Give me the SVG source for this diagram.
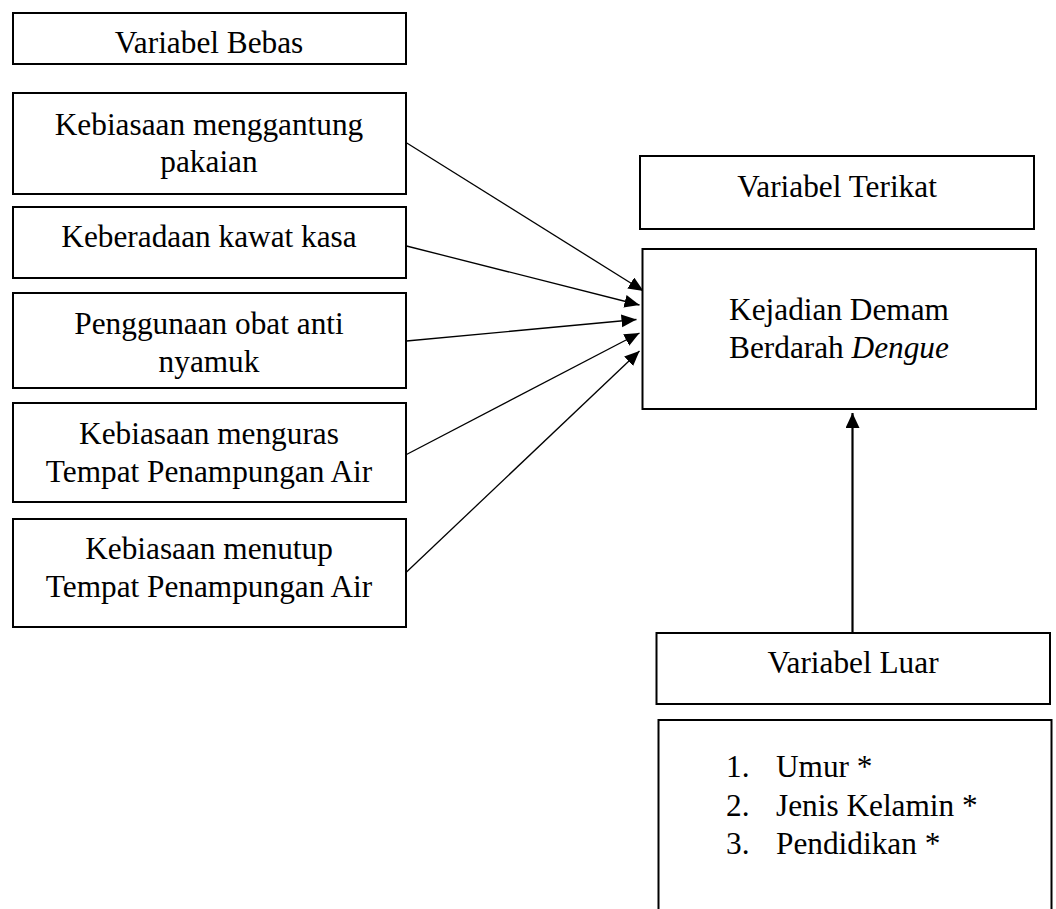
<svg xmlns="http://www.w3.org/2000/svg" width="1056" height="909" viewBox="0 0 1056 909">
<style>
  .box { fill: #fff; stroke: #000; stroke-width: 2; }
  .t { font-family: "Liberation Serif", "Times New Roman", serif; font-size: 31.3px; fill: #000; }
  .c { text-anchor: middle; }
  .conn { stroke: #000; stroke-width: 1.3; fill: none; }
  .conn2 { stroke: #000; stroke-width: 2.2; fill: none; }
</style>
<defs>
  <marker id="ah" markerUnits="userSpaceOnUse" markerWidth="16" markerHeight="14" refX="15" refY="6.5" orient="auto">
    <path d="M0,0 L15,6.5 L0,13 z" fill="#000"/>
  </marker>
  <marker id="ah2" markerUnits="userSpaceOnUse" markerWidth="16" markerHeight="15" refX="15" refY="7" orient="auto">
    <path d="M0,0 L15,7 L0,14 z" fill="#000"/>
  </marker>
</defs>
<rect width="1056" height="909" fill="#fff"/>

<g id="connectors">
  <line class="conn" x1="406" y1="142.5" x2="643.5" y2="291" marker-end="url(#ah)"/>
  <line class="conn" x1="406.5" y1="246" x2="639.5" y2="305" marker-end="url(#ah)"/>
  <line class="conn" x1="406.5" y1="341" x2="636.5" y2="319.5" marker-end="url(#ah)"/>
  <line class="conn" x1="406.5" y1="454.5" x2="639.5" y2="333" marker-end="url(#ah)"/>
  <line class="conn" x1="406" y1="572.5" x2="639.5" y2="351" marker-end="url(#ah)"/>
  <line class="conn2" x1="852.5" y1="632" x2="852.5" y2="413" marker-end="url(#ah2)"/>
</g>

<g id="variabel-bebas">
  <rect class="box" x="13" y="13" width="393" height="51"/>
  <text class="t c" x="209" y="53">Variabel Bebas</text>
</g>
<g id="menggantung">
  <rect class="box" x="13" y="93" width="393" height="101"/>
  <text class="t c" x="209" y="134.5">Kebiasaan menggantung</text>
  <text class="t c" x="209" y="172">pakaian</text>
</g>
<g id="kawat-kasa">
  <rect class="box" x="13" y="207" width="393" height="71"/>
  <text class="t c" x="209" y="246.5">Keberadaan kawat kasa</text>
</g>
<g id="obat-nyamuk">
  <rect class="box" x="13" y="293" width="393" height="95"/>
  <text class="t c" x="209" y="333.5">Penggunaan obat anti</text>
  <text class="t c" x="209" y="371.5">nyamuk</text>
</g>
<g id="menguras">
  <rect class="box" x="13" y="403" width="393" height="99"/>
  <text class="t c" x="209" y="443.5">Kebiasaan menguras</text>
  <text class="t c" x="209" y="481.5">Tempat Penampungan Air</text>
</g>
<g id="menutup">
  <rect class="box" x="13" y="519" width="393" height="108"/>
  <text class="t c" x="209" y="558.5">Kebiasaan menutup</text>
  <text class="t c" x="209" y="596.5">Tempat Penampungan Air</text>
</g>

<g id="variabel-terikat">
  <rect class="box" x="640" y="156" width="394" height="73"/>
  <text class="t c" x="837" y="196.5">Variabel Terikat</text>
</g>
<g id="kejadian-dbd">
  <rect class="box" x="642.5" y="249" width="393.5" height="160"/>
  <text class="t c" x="839" y="320">Kejadian Demam</text>
  <text class="t c" x="839" y="358">Berdarah <tspan font-style="italic">Dengue</tspan></text>
</g>

<g id="variabel-luar">
  <rect class="box" x="656.5" y="633" width="393.5" height="71"/>
  <text class="t c" x="853" y="673">Variabel Luar</text>
</g>
<g id="daftar-luar">
  <rect class="box" x="658.5" y="720" width="393" height="210"/>
  <text class="t" x="726" y="777">1.</text>
  <text class="t" x="776" y="777">Umur *</text>
  <text class="t" x="726" y="815.5">2.</text>
  <text class="t" x="776" y="815.5">Jenis Kelamin *</text>
  <text class="t" x="726" y="854">3.</text>
  <text class="t" x="776" y="854">Pendidikan *</text>
</g>
</svg>
